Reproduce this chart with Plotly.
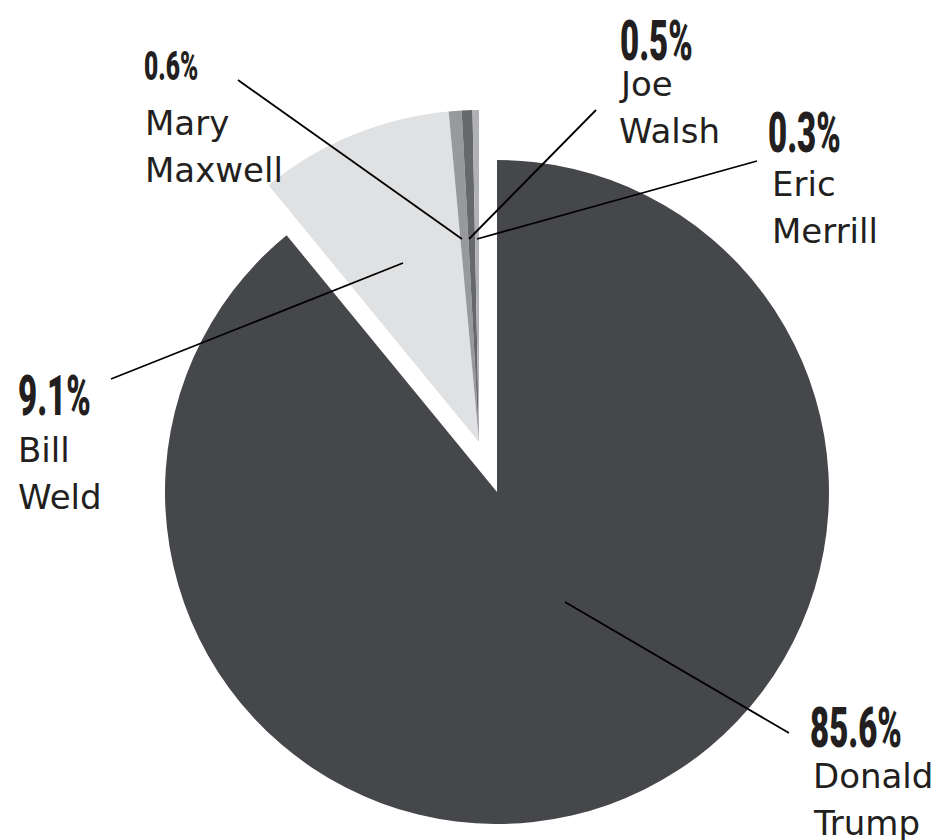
import plotly.graph_objects as go

# ---- data ----
candidates = ["Donald Trump", "Bill Weld", "Mary Maxwell", "Joe Walsh", "Eric Merrill"]
shares = [85.6, 9.1, 0.6, 0.5, 0.3]
pct_labels = ["85.6%", "9.1%", "0.6%", "0.5%", "0.3%"]
name_lines = [["Donald", "Trump"], ["Bill", "Weld"], ["Mary", "Maxwell"], ["Joe", "Walsh"], ["Eric", "Merrill"]]
colors = ["#46474a", "#e0e1e3", "#98999c", "#67686a", "#b0b1b4"]

# ---- layout geometry (pixels) ----
W, H = 951, 840
R = 332
main_c = (497, 492)
pulled_c = (479, 442)

# label layout: pct (left x, mid y, size), names (left x, first mid y), leader (x0,y0,x1,y1)
label_pos = [
    dict(pct=(809, 728, 55), names=(812, 776), leader=(565, 602, 789, 733)),
    dict(pct=(17, 396, 55), names=(17, 450), leader=(403, 263, 111, 379)),
    dict(pct=(143, 66, 41), names=(144, 123), leader=(462, 239, 238, 80)),
    dict(pct=(619, 41, 55), names=(618, 84), leader=(469, 239, 596, 110)),
    dict(pct=(767, 133, 55), names=(771, 184), leader=(477, 239, 757, 161)),
]
NAME_GAP = 47


def px(x):
    return x / W


def py(y):
    return 1 - y / H


def domain(c):
    return dict(x=[px(c[0] - R), px(c[0] + R)], y=[py(c[1] + R), py(c[1] - R)])


clear = "rgba(0,0,0,0)"
common = dict(
    labels=candidates, values=shares, sort=False, direction="clockwise", rotation=0,
    textinfo="none", hoverinfo="skip", showlegend=False,
)

fig = go.Figure()
fig.add_trace(go.Pie(
    domain=domain(main_c),
    marker=dict(colors=[colors[0]] + [clear] * 4, line=dict(width=0)),
    **common,
))
fig.add_trace(go.Pie(
    domain=domain(pulled_c),
    marker=dict(colors=[clear] + colors[1:], line=dict(width=0)),
    **common,
))

PCT_FONT = "Roboto, DejaVu Sans, sans-serif"
NAME_FONT = "DejaVu Sans, Lato, sans-serif"

annotations = []
shapes = []
for pct, names, pos in zip(pct_labels, name_lines, label_pos):
    x, y, s = pos["pct"]
    annotations.append(dict(
        text=pct, x=px(x), y=py(y), xref="paper", yref="paper",
        xanchor="left", yanchor="middle", showarrow=False, borderpad=0,
        font=dict(family=PCT_FONT, size=s, color="#231f20", weight=900),
    ))
    nx, ny = pos["names"]
    for i, nm in enumerate(names):
        annotations.append(dict(
            text=nm, x=px(nx), y=py(ny + i * NAME_GAP), xref="paper", yref="paper",
            xanchor="left", yanchor="middle", showarrow=False, borderpad=0,
            font=dict(family=NAME_FONT, size=34, color="#231f20"),
        ))
    x0, y0, x1, y1 = pos["leader"]
    shapes.append(dict(
        type="line", xref="paper", yref="paper",
        x0=px(x0), y0=py(y0), x1=px(x1), y1=py(y1),
        line=dict(color="#000000", width=1.8),
    ))

fig.update_layout(
    width=W, height=H, margin=dict(l=0, r=0, t=0, b=0),
    paper_bgcolor="white", plot_bgcolor="white",
    annotations=annotations, shapes=shapes,
)

# remove default page margin; condense the percentage labels horizontally
post = """
document.body.style.margin = '0';
document.body.style.overflow = 'hidden';
document.querySelectorAll('.annotation-text').forEach(function (el) {
  if (el.textContent.indexOf('%') >= 0) {
    el.style.transformBox = 'fill-box';
    el.style.transformOrigin = '0 50%';
    el.style.transform = 'scaleX(0.6)';
  }
});
"""

fig.write_html("out.html", post_script=post, config={"displayModeBar": False})
